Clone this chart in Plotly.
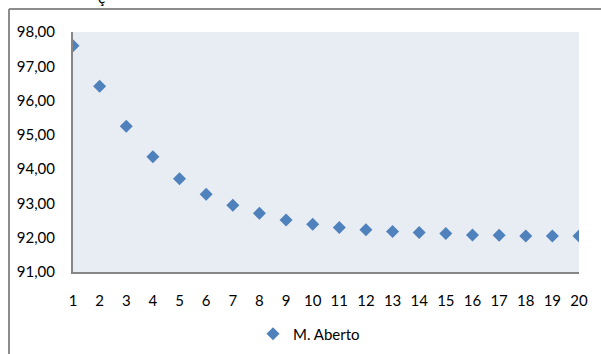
import plotly.graph_objects as go

x_vals = list(range(1, 21))
y_vals = [97.60, 96.42, 95.25, 94.36, 93.72, 93.27, 92.95, 92.71, 92.52, 92.39,
          92.30, 92.23, 92.18, 92.15, 92.12, 92.08, 92.07, 92.05, 92.05, 92.05]
series_name = "M. Aberto"
title_fragment = "ç"

W, H = 601, 354
L, R, T, B = 73, 22, 32, 82
pw, ph = W - L - R, H - T - B

def px(xp):
    return (xp - L) / pw

def py(yp):
    return 1 - (yp - T) / ph

fig = go.Figure()
fig.add_trace(go.Scatter(
    x=x_vals, y=y_vals, mode="markers", name=series_name,
    marker=dict(symbol="diamond", size=10, color="#4F81BD"),
    showlegend=True,
))

font = dict(family="Lato, Open Sans, sans-serif", size=15, color="#000000")

fig.update_layout(
    width=W, height=H,
    margin=dict(l=L, r=R, t=T, b=B, autoexpand=False),
    paper_bgcolor="white",
    plot_bgcolor="#E8ECF3",
    separators=",.",
    font=font,
    showlegend=True,
    legend=dict(orientation="h", xref="container", yref="container",
                x=253 / W, y=1 - 334 / H, xanchor="left", yanchor="middle",
                itemwidth=30, font=font, bgcolor="rgba(0,0,0,0)"),
    xaxis=dict(range=[1, 20], tickmode="array", tickvals=x_vals,
               ticktext=[str(v) for v in x_vals], showgrid=False, zeroline=False,
               showline=True, linecolor="#868686", linewidth=2, ticks="",
               ticklabelstandoff=14, automargin=False),
    yaxis=dict(range=[91, 98], dtick=1, tickformat=".2f", showgrid=False, zeroline=False,
               showline=True, linecolor="#868686", linewidth=2, ticks="",
               ticklabelstandoff=13, automargin=False),
    annotations=[dict(text=title_fragment, xref="paper", yref="paper",
                      x=px(101), y=py(8), xanchor="center", yanchor="bottom",
                      showarrow=False, font=font)],
)

# outer chart border (top and left visible)
fig.add_shape(type="line", xref="paper", yref="paper", x0=px(9), x1=px(601), y0=py(9), y1=py(9),
              line=dict(color="#8C8C8C", width=2))
fig.add_shape(type="line", xref="paper", yref="paper", x0=px(9), x1=px(9), y0=py(9), y1=py(354),
              line=dict(color="#8C8C8C", width=2))

fig.write_html("out.html")
